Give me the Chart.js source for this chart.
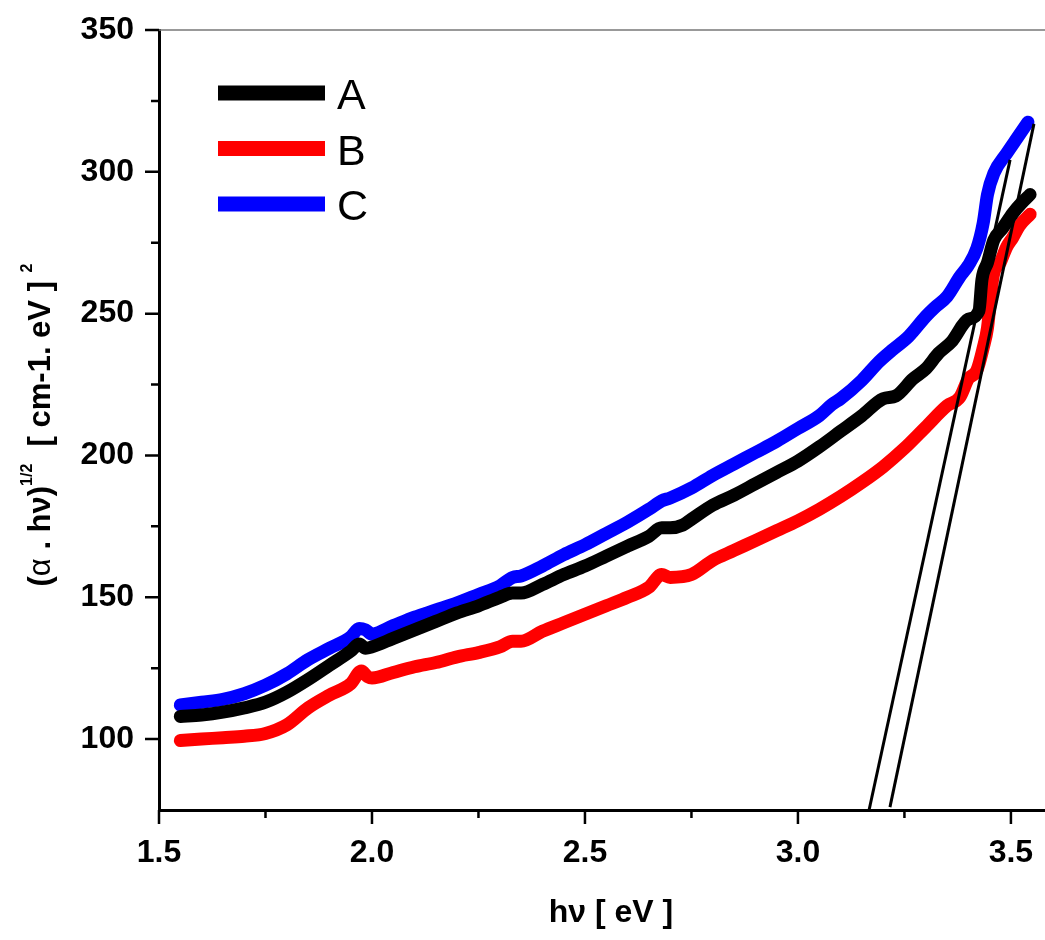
<!DOCTYPE html>
<html>
<head>
<meta charset="utf-8">
<script src="https://cdn.jsdelivr.net/npm/chart.js@4/dist/chart.umd.min.js"></script>
<style>
  html, body { margin: 0; padding: 0; background: #fff; }
  #wrap { width: 1045px; height: 940px; }
</style>
</head>
<body>
<div id="wrap"><canvas id="tauc" width="1045" height="940"></canvas></div>
<script>
// sample A (black)
const eVA = [1.55,1.60,1.65,1.70,1.75,1.80,1.85,1.90,1.95,1.97,1.985,2.00,2.05,2.10,2.15,2.20,2.25,2.30,2.33,2.35,2.40,2.45,2.50,2.55,2.60,2.65,2.68,2.70,2.73,2.75,2.80,2.85,2.90,2.95,3.00,3.05,3.10,3.15,3.20,3.23,3.27,3.30,3.33,3.36,3.40,3.425,3.432,3.445,3.46,3.48,3.505,3.525,3.545];
const valA = [108,108.5,109.5,111,113,116.5,121,126,131,133.5,132,132.5,135.5,138.5,141.5,144.5,147,150,151.5,151.5,154.5,158,161,164.5,168,171.5,174.5,174.5,175.5,177.5,182.5,186,190,194,198,203,208.5,214,220,221,227,230.5,236,240,248,251,262,268,276,280,285.5,289,292];

// sample B (red)
const eVB = [1.55,1.60,1.65,1.70,1.75,1.80,1.85,1.90,1.95,1.975,1.99,2.00,2.05,2.10,2.15,2.20,2.25,2.30,2.33,2.35,2.40,2.45,2.50,2.55,2.60,2.65,2.68,2.70,2.75,2.80,2.85,2.90,2.95,3.00,3.05,3.10,3.15,3.20,3.25,3.30,3.35,3.38,3.40,3.42,3.435,3.445,3.458,3.475,3.49,3.505,3.52,3.545];
const valB = [99.5,100,100.5,101,102,105,111,115.5,119.5,124,122,121.5,123.5,125.5,127,129,130.5,132.5,134.5,134.5,138,141,144,147,150,153.5,158,157,158,163,166.5,170,173.5,177,181,185.5,190.5,196,202.5,210,217.5,220.5,227,230,238,245,263,268,273.5,277,281,285];

// sample C (blue)
const eVC = [1.55,1.60,1.65,1.70,1.75,1.80,1.85,1.90,1.95,1.97,1.985,2.00,2.05,2.10,2.15,2.20,2.25,2.30,2.33,2.35,2.40,2.45,2.50,2.55,2.60,2.65,2.68,2.70,2.75,2.80,2.85,2.90,2.95,3.00,3.05,3.08,3.10,3.15,3.19,3.22,3.26,3.30,3.32,3.35,3.38,3.40,3.42,3.435,3.445,3.46,3.49,3.515,3.54];
const valC = [112,113,114,116,119,123,128,132,136,139,138.5,137,140,143,145.5,148,151,154,157,157.5,161,165,168.5,172.5,176.5,181,184,185,188.5,193,197,201,205,209.5,214,218,220,226.5,233,237,242,249,252,256,263,267,273,282,292,299.5,306.5,312,317.5];

// linear fits (band-gap extrapolation)
const fit1X = [3.167, 3.498], fit1Y = [75, 304.2];
const fit2X = [3.216, 3.554], fit2Y = [76, 316.9];

const seriesLabels = ['A', 'B', 'C'];
const seriesColors = ['#000000', '#ff0000', '#0000ff'];

const xMajor = [1.5, 2.0, 2.5, 3.0, 3.5];
const xMinor = [1.75, 2.25, 2.75, 3.25];
const yMajor = [100, 150, 200, 250, 300, 350];
const yMinor = [125, 175, 225, 275, 325];

function pts(xs, ys) { return xs.map((x, i) => ({ x: x, y: ys[i] })); }

const FONT = "'Liberation Sans', Arial, sans-serif";

const decor = {
    id: 'decor',
    afterDraw(chart) {
        const ctx = chart.ctx;
        const area = chart.chartArea;
        const sx = chart.scales.x, sy = chart.scales.y;
        ctx.save();

        // top frame line
        ctx.strokeStyle = '#777';
        ctx.lineWidth = 1.5;
        ctx.beginPath();
        ctx.moveTo(area.left, area.top);
        ctx.lineTo(chart.width, area.top);
        ctx.stroke();

        // tick marks
        ctx.strokeStyle = '#000';
        ctx.lineWidth = 2.5;
        ctx.beginPath();
        xMajor.forEach(v => { const p = sx.getPixelForValue(v); ctx.moveTo(p, area.bottom); ctx.lineTo(p, area.bottom + 14); });
        xMinor.forEach(v => { const p = sx.getPixelForValue(v); ctx.moveTo(p, area.bottom); ctx.lineTo(p, area.bottom + 8); });
        yMajor.forEach(v => { const p = sy.getPixelForValue(v); ctx.moveTo(area.left, p); ctx.lineTo(area.left - 14, p); });
        yMinor.forEach(v => { const p = sy.getPixelForValue(v); ctx.moveTo(area.left, p); ctx.lineTo(area.left - 8, p); });
        ctx.stroke();

        // legend
        seriesLabels.forEach((lab, i) => {
            const y = 93 + i * 55.5;
            ctx.strokeStyle = seriesColors[i];
            ctx.lineWidth = 15;
            ctx.lineCap = 'butt';
            ctx.beginPath();
            ctx.moveTo(218, y);
            ctx.lineTo(325, y);
            ctx.stroke();
            ctx.fillStyle = '#000';
            ctx.font = '43px ' + FONT;
            ctx.textAlign = 'left';
            ctx.textBaseline = 'alphabetic';
            ctx.fillText(lab, 337, y + 16);
        });

        // x title
        ctx.fillStyle = '#000';
        ctx.font = 'bold 32px ' + FONT;
        ctx.textAlign = 'center';
        ctx.textBaseline = 'middle';
        ctx.fillText('h\u03BD [ eV ]', 611, 913);

        // y title with superscripts
        const parts = [
            { t: '(', f: 'bold 31px ' + FONT, sup: false },
            { t: '\u03B1', f: '31px ' + FONT, sup: false },
            { t: ' . h\u03BD)', f: 'bold 31px ' + FONT, sup: false },
            { t: '1/2', f: 'bold 16px ' + FONT, sup: true },
            { t: '  [ cm-1. eV ] ', f: 'bold 31px ' + FONT, sup: false },
            { t: '2', f: 'bold 16px ' + FONT, sup: true }
        ];
        let total = 0;
        parts.forEach(p => { ctx.font = p.f; p.w = ctx.measureText(p.t).width; total += p.w; });
        ctx.translate(50, 425);
        ctx.rotate(-Math.PI / 2);
        ctx.textAlign = 'left';
        ctx.textBaseline = 'alphabetic';
        let cx = -total / 2;
        parts.forEach(p => {
            ctx.font = p.f;
            ctx.fillText(p.t, cx, p.sup ? -18 : 0);
            cx += p.w;
        });
        ctx.restore();
    }
};

const thick = (lab, xs, ys, color, ord) => ({
    label: lab,
    data: pts(xs, ys),
    borderColor: color,
    borderWidth: 13,
    borderCapStyle: 'round',
    borderJoinStyle: 'round',
    pointRadius: 0,
    cubicInterpolationMode: 'monotone',
    fill: false,
    order: ord
});

const thin = (xs, ys) => ({
    label: 'fit',
    data: pts(xs, ys),
    borderColor: '#000',
    borderWidth: 3,
    pointRadius: 0,
    tension: 0,
    fill: false,
    order: 0
});

new Chart(document.getElementById('tauc'), {
    type: 'line',
    data: {
        datasets: [
            thin(fit1X, fit1Y),
            thin(fit2X, fit2Y),
            thick(seriesLabels[0], eVA, valA, seriesColors[0], 1),
            thick(seriesLabels[1], eVB, valB, seriesColors[1], 2),
            thick(seriesLabels[2], eVC, valC, seriesColors[2], 3)
        ]
    },
    options: {
        responsive: false,
        devicePixelRatio: 1,
        animation: false,
        layout: { padding: { top: 30, right: 0, left: 0, bottom: 0 } },
        plugins: { legend: { display: false }, tooltip: { enabled: false } },
        scales: {
            x: {
                type: 'linear',
                min: 1.5,
                max: 3.58,
                afterFit(scale) {
                    scale.height = 130;
                    scale.paddingLeft = 0;
                    scale.paddingRight = 0;
                },
                grid: { display: false, drawTicks: false },
                border: { display: true, color: '#000', width: 3 },
                ticks: {
                    stepSize: 0.5,
                    includeBounds: false,
                    padding: 24,
                    color: '#000',
                    font: { family: FONT, size: 32, weight: 'bold' },
                    callback: v => v.toFixed(1)
                }
            },
            y: {
                min: 75,
                max: 350,
                afterFit(scale) {
                    scale.width = 159;
                    scale.paddingTop = 0;
                    scale.paddingBottom = 0;
                },
                grid: { display: false, drawTicks: false },
                border: { display: true, color: '#000', width: 3 },
                ticks: {
                    stepSize: 50,
                    includeBounds: false,
                    padding: 25,
                    color: '#000',
                    font: { family: FONT, size: 32, weight: 'bold' }
                },
                afterBuildTicks(scale) { scale.ticks = yMajor.map(v => ({ value: v })); }
            }
        }
    },
    plugins: [decor]
});
</script>
</body>
</html>
